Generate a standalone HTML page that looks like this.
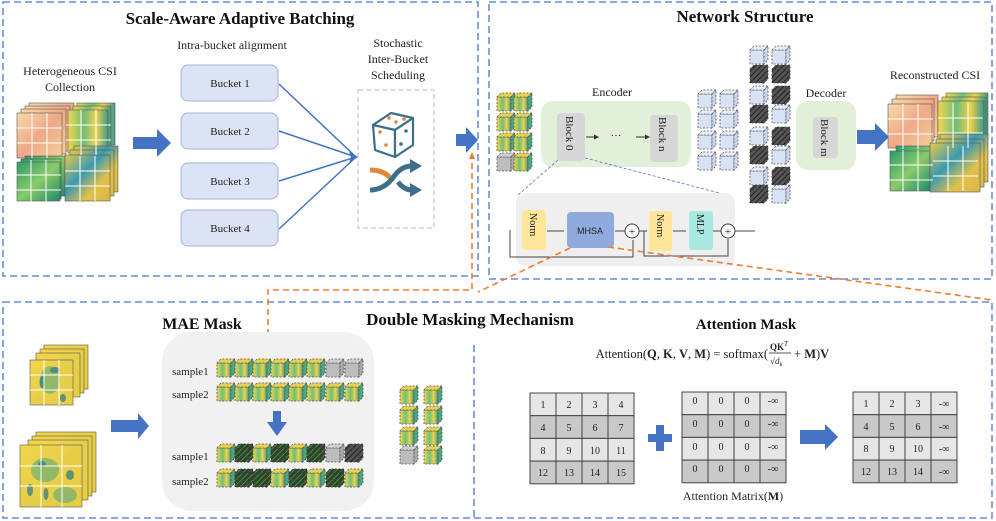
<!DOCTYPE html>
<html><head><meta charset="utf-8"><style>
html,body{margin:0;padding:0;background:#fff}
svg{display:block}
text{font-family:"Liberation Serif",serif;fill:#222}
.t{font-weight:bold;font-size:17px;fill:#111}
.s{font-size:12px}
.b{font-size:11px}
</style></head><body>
<svg width="996" height="521" viewBox="0 0 996 521" xmlns="http://www.w3.org/2000/svg">
<defs>
<linearGradient id="gO" x1="0" y1="0" x2="1" y2="1"><stop offset="0" stop-color="#f8d9a8"/><stop offset=".5" stop-color="#f0a888"/><stop offset="1" stop-color="#f6cf9a"/></linearGradient>
<linearGradient id="gY" x1="0" y1="0" x2="1" y2="0"><stop offset="0" stop-color="#f2d64a"/><stop offset=".4" stop-color="#6fbf7a"/><stop offset=".7" stop-color="#f0d24a"/><stop offset="1" stop-color="#3a9a8a"/></linearGradient>
<linearGradient id="gG" x1="0" y1="0" x2="1" y2="1"><stop offset="0" stop-color="#2e9a6a"/><stop offset=".5" stop-color="#8acb6a"/><stop offset="1" stop-color="#1f8a6a"/></linearGradient>
<linearGradient id="gB" x1="0" y1="0" x2="1" y2="1"><stop offset="0" stop-color="#e8c94a"/><stop offset=".4" stop-color="#3a9ab0"/><stop offset=".7" stop-color="#e2c04a"/><stop offset="1" stop-color="#d8b84a"/></linearGradient>
<linearGradient id="gYY" x1="0" y1="0" x2="1" y2="1"><stop offset="0" stop-color="#f4d54a"/><stop offset=".5" stop-color="#e6cf48"/><stop offset="1" stop-color="#e8cc44"/></linearGradient>
<pattern id="hatch" width="4" height="4" patternUnits="userSpaceOnUse" patternTransform="rotate(45)"><rect width="4" height="4" fill="#555"/><line x1="0" y1="0" x2="0" y2="4" stroke="#222" stroke-width="2"/></pattern>
<pattern id="hatchY" width="4" height="4" patternUnits="userSpaceOnUse" patternTransform="rotate(45)"><rect width="4" height="4" fill="#2a4a30"/><line x1="0" y1="0" x2="0" y2="4" stroke="#8aa840" stroke-width="1"/></pattern>
<g id="cL" stroke="#555" stroke-width=".8" stroke-dasharray="2 1.5"><rect x="0" y="4" width="14" height="14" fill="#d9e2f5"/><polygon points="0,4 4,0 18,0 14,4" fill="#e6ecf8"/><polygon points="14,4 18,0 18,14 14,18" fill="#c8d4ee"/></g>
<g id="cD" stroke="#444" stroke-width=".8" stroke-dasharray="2 1.5"><rect x="0" y="4" width="14" height="14" fill="url(#hatch)"/><polygon points="0,4 4,0 18,0 14,4" fill="url(#hatch)"/><polygon points="14,4 18,0 18,14 14,18" fill="url(#hatch)"/></g>
<g id="cG" stroke="#555" stroke-width=".8" stroke-dasharray="2 1.5"><rect x="0" y="4" width="14" height="14" fill="#bdbdbd"/><polygon points="0,4 4,0 18,0 14,4" fill="#d0d0d0"/><polygon points="14,4 18,0 18,14 14,18" fill="#a8a8a8"/></g>
<g id="cY" stroke="#555" stroke-width=".8" stroke-dasharray="2 1.5"><rect x="0" y="4" width="14" height="14" fill="url(#gY)"/><polygon points="0,4 4,0 18,0 14,4" fill="#e8d050"/><polygon points="14,4 18,0 18,14 14,18" fill="#4aa880"/></g>
<g id="cH" stroke="#333" stroke-width=".8" stroke-dasharray="2 1.5"><rect x="0" y="4" width="14" height="14" fill="url(#hatchY)"/><polygon points="0,4 4,0 18,0 14,4" fill="url(#hatchY)"/><polygon points="14,4 18,0 18,14 14,18" fill="url(#hatchY)"/></g>
<g id="hm"><path d="M0 15H45M0 30H45M15 0V45M30 0V45" stroke="#fff" stroke-width="1"/></g>
</defs>

<g fill="none" stroke="#4a74d0" stroke-width="1.3" stroke-dasharray="7 4">
<rect x="3" y="2" width="475" height="274"/>
<rect x="489" y="2" width="503" height="277"/>
<rect x="3" y="302" width="989" height="216"/>
<line x1="474" y1="345" x2="474" y2="518"/>
</g>
<text class="t" x="240" y="24" text-anchor="middle">Scale-Aware Adaptive Batching</text>
<text class="t" x="745" y="22" text-anchor="middle">Network Structure</text>
<text class="t" x="470" y="325" text-anchor="middle">Double Masking Mechanism</text>
<text class="t" x="202" y="329" text-anchor="middle" style="font-size:16px">MAE Mask</text>
<text class="t" x="746" y="329" text-anchor="middle" style="font-size:15px">Attention Mask</text>

<text class="s" x="70" y="75" text-anchor="middle">Heterogeneous CSI</text>
<text class="s" x="70" y="91" text-anchor="middle">Collection</text>
<g stroke="#555" stroke-width=".6">
<rect x="29" y="103" width="45" height="45" fill="url(#gO)"/><rect x="25" y="106" width="45" height="45" fill="url(#gO)"/><rect x="21" y="109" width="45" height="45" fill="url(#gO)"/><rect x="17" y="113" width="45" height="45" fill="url(#gO)"/>
<rect x="77" y="103" width="38" height="42" fill="url(#gY)"/><rect x="73" y="106" width="38" height="42" fill="url(#gY)"/><rect x="68" y="110" width="40" height="43" fill="url(#gY)"/>
<rect x="25" y="156" width="40" height="40" fill="url(#gG)"/><rect x="21" y="159" width="40" height="40" fill="url(#gG)"/><rect x="17" y="162" width="43" height="39" fill="url(#gG)"/>
<rect x="74" y="146" width="44" height="46" fill="url(#gB)"/><rect x="70" y="150" width="44" height="46" fill="url(#gB)"/><rect x="65" y="155" width="45" height="46" fill="url(#gB)"/>
</g>
<use href="#hm" x="17" y="113"/><use href="#hm" x="66" y="110"/><use href="#hm" x="16" y="160"/><use href="#hm" x="65" y="156"/>
<polygon points="133,137 157,137 157,129 171,143 157,157 157,149 133,149" fill="#4472c4"/>
<text class="s" x="232" y="49" text-anchor="middle">Intra-bucket alignment</text>
<g fill="#dbe3f5" stroke="#9fb2de" stroke-width="1">
<rect x="181" y="65" width="97" height="36" rx="7"/><rect x="181" y="113" width="97" height="36" rx="7"/><rect x="181" y="163" width="97" height="36" rx="7"/><rect x="181" y="210" width="97" height="36" rx="7"/>
</g>
<text class="b" x="230" y="87" text-anchor="middle">Bucket 1</text><text class="b" x="230" y="135" text-anchor="middle">Bucket 2</text><text class="b" x="230" y="185" text-anchor="middle">Bucket 3</text><text class="b" x="230" y="232" text-anchor="middle">Bucket 4</text>
<g stroke="#4472c4" stroke-width="1.5" fill="none">
<line x1="279" y1="84" x2="356" y2="157"/><line x1="279" y1="131" x2="356" y2="157"/><line x1="279" y1="181" x2="356" y2="157"/><line x1="279" y1="229" x2="356" y2="157"/>
</g>
<polygon points="358,157 349,151 351,158 349,163" fill="#4472c4"/>
<text class="s" x="398" y="47" text-anchor="middle">Stochastic</text>
<text class="s" x="398" y="63" text-anchor="middle">Inter-Bucket</text>
<text class="s" x="398" y="79" text-anchor="middle">Scheduling</text>
<rect x="358" y="90" width="76" height="138" fill="#fff" stroke="#bbb" stroke-dasharray="5 3"/>
<g stroke="#3d7088" stroke-width="2.2" fill="#fff" stroke-linejoin="round">
<polygon points="373,125 391,113 413,118 395,130"/><polygon points="373,125 395,130 395,157 375,150"/><polygon points="395,130 413,118 413,145 395,157"/>
</g>
<g fill="#e0883a"><circle cx="389" cy="118" r="1.8"/><circle cx="396" cy="122" r="1.8"/><circle cx="404" cy="119" r="1.8"/><circle cx="380" cy="132" r="1.8"/><circle cx="386" cy="145" r="1.8"/></g>
<g fill="#3d7088"><circle cx="406" cy="131" r="1.8"/><circle cx="401" cy="144" r="1.8"/></g>
<path d="M370 170 Q385 170 392 180" stroke="#e0883a" stroke-width="5" fill="none"/>
<path d="M370 190 Q385 190 395 175 Q402 166 412 166" stroke="#3d7088" stroke-width="5" fill="none"/>
<path d="M398 182 Q404 190 412 190" stroke="#3d7088" stroke-width="5" fill="none"/>
<polygon points="410,159 422,166 410,173" fill="#3d7088"/><polygon points="410,183 422,190 410,197" fill="#3d7088"/>
<polygon points="456,134 466,134 466,127 478,140 466,153 466,146 456,146" fill="#4472c4"/>

<use href="#cY" x="497" y="93"/><use href="#cY" x="514" y="93"/><use href="#cY" x="497" y="113"/><use href="#cY" x="514" y="113"/><use href="#cY" x="497" y="133"/><use href="#cY" x="514" y="133"/><use href="#cG" x="497" y="153"/><use href="#cY" x="514" y="153"/>
<text class="s" x="612" y="96" text-anchor="middle">Encoder</text>
<rect x="541" y="101" width="150" height="66" rx="12" fill="#e2f0d9"/>
<rect x="557" y="113" width="28" height="48" rx="4" fill="#d6d6d6"/>
<rect x="650" y="115" width="28" height="47" rx="4" fill="#d6d6d6"/>
<text class="b" transform="translate(566,116) rotate(90)">Block 0</text>
<text class="b" transform="translate(659,117) rotate(90)">Block n</text>
<g stroke="#333" stroke-width="1"><line x1="586" y1="137" x2="597" y2="137"/><line x1="636" y1="137" x2="648" y2="137"/></g>
<polygon points="599,137 594,134.5 594,139.5" fill="#333"/><polygon points="650,137 645,134.5 645,139.5" fill="#333"/>
<text class="b" x="616" y="139" text-anchor="middle">···</text>
<use href="#cL" x="698" y="90"/><use href="#cL" x="720" y="90"/><use href="#cL" x="698" y="110"/><use href="#cL" x="720" y="110"/><use href="#cL" x="698" y="131"/><use href="#cL" x="720" y="131"/><use href="#cL" x="698" y="152"/><use href="#cL" x="720" y="152"/>
<use href="#cL" x="750" y="46"/><use href="#cL" x="772" y="46"/>
<use href="#cD" x="750" y="65"/><use href="#cD" x="772" y="65"/>
<use href="#cL" x="750" y="86"/><use href="#cD" x="772" y="86"/>
<use href="#cD" x="750" y="105"/><use href="#cL" x="772" y="105"/>
<use href="#cL" x="750" y="127"/><use href="#cD" x="772" y="127"/>
<use href="#cD" x="750" y="146"/><use href="#cL" x="772" y="146"/>
<use href="#cL" x="750" y="167"/><use href="#cD" x="772" y="167"/>
<use href="#cD" x="750" y="185"/><use href="#cL" x="772" y="185"/>
<text class="s" x="826" y="97" text-anchor="middle">Decoder</text>
<rect x="796" y="101" width="60" height="69" rx="12" fill="#e2f0d9"/>
<rect x="813" y="117" width="25" height="41" rx="4" fill="#d6d6d6"/>
<text class="b" transform="translate(821,119) rotate(90)">Block m</text>
<polygon points="857,130 875,130 875,123 889,137 875,151 875,144 857,144" fill="#4472c4"/>
<text class="s" x="935" y="79" text-anchor="middle">Reconstructed CSI</text>
<g stroke="#555" stroke-width=".6">
<rect x="896" y="95" width="42" height="42" fill="url(#gO)"/><rect x="892" y="99" width="42" height="42" fill="url(#gO)"/><rect x="888" y="104" width="44" height="44" fill="url(#gO)"/>
<rect x="946" y="93" width="42" height="46" fill="url(#gY)"/><rect x="942" y="97" width="44" height="48" fill="url(#gY)"/><rect x="938" y="101" width="46" height="48" fill="url(#gY)"/>
<rect x="896" y="146" width="40" height="40" fill="url(#gG)"/><rect x="890" y="151" width="40" height="40" fill="url(#gG)"/>
<rect x="940" y="134" width="48" height="48" fill="url(#gB)"/><rect x="936" y="139" width="48" height="48" fill="url(#gB)"/><rect x="930" y="143" width="50" height="49" fill="url(#gB)"/>
</g>
<use href="#hm" x="888" y="104"/><use href="#hm" x="938" y="103"/><use href="#hm" x="888" y="150"/><use href="#hm" x="933" y="146"/>
<g stroke="#4a74d0" stroke-width=".8" stroke-dasharray="3 2"><line x1="558" y1="160" x2="518" y2="195"/><line x1="585" y1="158" x2="727" y2="195"/></g>
<rect x="516" y="193" width="219" height="73" rx="10" fill="#efefef"/>
<rect x="522" y="210" width="24" height="40" rx="3" fill="#ffe699"/>
<rect x="567" y="212" width="47" height="36" rx="4" fill="#8faadc"/>
<rect x="649" y="211" width="23" height="40" rx="3" fill="#ffe699"/>
<rect x="689" y="211" width="24" height="39" rx="3" fill="#a8e8e0"/>
<text class="b" style="font-size:10px" transform="translate(530,213) rotate(90)">Norm</text>
<text class="b" style="font-size:10px" transform="translate(657,214) rotate(90)">Norm</text>
<text class="b" style="font-size:10px" transform="translate(697,214) rotate(90)">MLP</text>
<text x="590" y="234" text-anchor="middle" style="font-family:'Liberation Sans',sans-serif;font-size:9px">MHSA</text>
<g stroke="#444" stroke-width="1" fill="none">
<line x1="547" y1="231" x2="564" y2="231"/><line x1="615" y1="231" x2="625" y2="231"/><line x1="639" y1="231" x2="647" y2="231"/><line x1="673" y1="231" x2="686" y2="231"/><line x1="713" y1="231" x2="721" y2="231"/><line x1="735" y1="231" x2="755" y2="231"/>
<polyline points="510,230 510,257 633,257 633,240"/><polyline points="644,231 644,256 728,256 728,239"/>
<circle cx="632" cy="231" r="7" fill="#fff"/><circle cx="728" cy="231" r="7" fill="#fff"/>
</g>
<text x="632" y="235" text-anchor="middle" style="font-size:11px">+</text><text x="728" y="235" text-anchor="middle" style="font-size:11px">+</text>

<g stroke="#ed7d31" stroke-width="1.6" stroke-dasharray="6 4" fill="none">
<line x1="570" y1="248" x2="478" y2="292"/>
<line x1="608" y1="247" x2="992" y2="300"/>
<polyline points="268,335 268,290 472,290 472,156"/>
</g>
<polygon points="472,152 469,159 475,159" fill="#ed7d31"/>

<g stroke="#555" stroke-width=".6">
<rect x="44" y="345" width="44" height="44" fill="url(#gYY)"/><rect x="40" y="349" width="44" height="44" fill="url(#gYY)"/><rect x="36" y="353" width="44" height="44" fill="url(#gYY)"/><rect x="30" y="360" width="43" height="45" fill="url(#gYY)"/>
<rect x="36" y="432" width="60" height="60" fill="url(#gYY)"/><rect x="32" y="436" width="60" height="60" fill="url(#gYY)"/><rect x="28" y="440" width="60" height="60" fill="url(#gYY)"/><rect x="20" y="445" width="62" height="62" fill="url(#gYY)"/>
</g>
<g fill="#5aaa80" opacity=".6"><ellipse cx="50" cy="380" rx="10" ry="14"/><ellipse cx="45" cy="470" rx="14" ry="12"/><ellipse cx="65" cy="495" rx="12" ry="8"/></g>
<g fill="#2a7a8a" opacity=".7"><ellipse cx="42" cy="382" rx="2.5" ry="6"/><ellipse cx="55" cy="370" rx="5" ry="3"/><ellipse cx="63" cy="398" rx="3" ry="4"/><ellipse cx="42" cy="464" rx="4" ry="3"/><ellipse cx="30" cy="490" rx="3" ry="6"/><ellipse cx="46" cy="494" rx="2.5" ry="6"/><ellipse cx="70" cy="475" rx="4" ry="5"/></g>
<g stroke="#fff"><path d="M30 375H73M30 390H73M44 360V405M59 360V405M20 466H82M20 486H82M41 445V507M62 445V507"/></g>
<polygon points="111,420 138,420 138,413 149,426 138,439 138,432 111,432" fill="#4472c4"/>
<rect x="162" y="332" width="212" height="179" rx="30" fill="#f1f1f1"/>
<text class="b" x="172" y="375">sample1</text><text class="b" x="172" y="398">sample2</text>
<text class="b" x="172" y="460">sample1</text><text class="b" x="172" y="485">sample2</text>
<use href="#cY" x="217" y="359"/><use href="#cY" x="235" y="359"/><use href="#cY" x="253" y="359"/><use href="#cY" x="271" y="359"/><use href="#cY" x="289" y="359"/><use href="#cY" x="307" y="359"/><use href="#cG" x="326" y="359"/><use href="#cG" x="345" y="359"/>
<use href="#cY" x="217" y="383"/><use href="#cY" x="235" y="383"/><use href="#cY" x="253" y="383"/><use href="#cY" x="271" y="383"/><use href="#cY" x="289" y="383"/><use href="#cY" x="307" y="383"/><use href="#cY" x="326" y="383"/><use href="#cY" x="345" y="383"/>
<polygon points="273,411 281,411 281,422 287,422 277,436 267,422 273,422" fill="#4472c4"/>
<use href="#cY" x="217" y="444"/><use href="#cH" x="235" y="444"/><use href="#cY" x="253" y="444"/><use href="#cH" x="271" y="444"/><use href="#cY" x="289" y="444"/><use href="#cH" x="307" y="444"/><use href="#cG" x="326" y="444"/><use href="#cD" x="345" y="444"/>
<use href="#cY" x="217" y="469"/><use href="#cH" x="235" y="469"/><use href="#cH" x="253" y="469"/><use href="#cY" x="271" y="469"/><use href="#cH" x="289" y="469"/><use href="#cY" x="307" y="469"/><use href="#cH" x="326" y="469"/><use href="#cY" x="345" y="469"/>
<use href="#cY" x="400" y="386"/><use href="#cY" x="424" y="386"/><use href="#cY" x="400" y="406"/><use href="#cY" x="424" y="406"/><use href="#cY" x="400" y="427"/><use href="#cY" x="424" y="427"/><use href="#cG" x="400" y="446"/><use href="#cY" x="424" y="446"/>

<text x="768" y="358" text-anchor="end" style="font-size:12.5px">Attention(<tspan font-weight="bold">Q</tspan>, <tspan font-weight="bold">K</tspan>, <tspan font-weight="bold">V</tspan>, <tspan font-weight="bold">M</tspan>) = softmax(</text>
<text x="770" y="350" style="font-size:9px;font-weight:bold">QK<tspan font-style="italic" font-weight="normal" dy="-4" font-size="7">T</tspan></text>
<line x1="769" y1="353" x2="791" y2="353" stroke="#222" stroke-width=".7"/>
<text x="770" y="364" style="font-size:9px">√<tspan font-style="italic">d</tspan><tspan font-size="6" dy="2">k</tspan></text>
<text x="794" y="358" style="font-size:12.5px">+ <tspan font-weight="bold">M</tspan>)<tspan font-weight="bold">V</tspan></text>

<g font-size="10" stroke="#444" stroke-width="1">
<g id="m1">
<rect x="530" y="393" width="104" height="22.7" fill="#e6e6e6"/><rect x="530" y="415.7" width="104" height="22.7" fill="#c9c9c9"/><rect x="530" y="438.4" width="104" height="22.7" fill="#e6e6e6"/><rect x="530" y="461.1" width="104" height="22.7" fill="#c9c9c9"/>
<path d="M556 393V483.8M582 393V483.8M608 393V483.8" fill="none"/>
</g>
<use href="#m1" x="152" y="-1"/>
<use href="#m1" x="323" y="-1"/>
</g>
<g font-size="10" text-anchor="middle" style="font-family:'Liberation Sans',sans-serif">
<text x="543" y="408">1</text><text x="569" y="408">2</text><text x="595" y="408">3</text><text x="621" y="408">4</text>
<text x="543" y="431">4</text><text x="569" y="431">5</text><text x="595" y="431">6</text><text x="621" y="431">7</text>
<text x="543" y="454">8</text><text x="569" y="454">9</text><text x="595" y="454">10</text><text x="621" y="454">11</text>
<text x="543" y="476">12</text><text x="569" y="476">13</text><text x="595" y="476">14</text><text x="621" y="476">15</text>
<text x="695" y="404">0</text><text x="721" y="404">0</text><text x="747" y="404">0</text><text x="773" y="404">-∞</text>
<text x="695" y="427">0</text><text x="721" y="427">0</text><text x="747" y="427">0</text><text x="773" y="427">-∞</text>
<text x="695" y="450">0</text><text x="721" y="450">0</text><text x="747" y="450">0</text><text x="773" y="450">-∞</text>
<text x="695" y="472">0</text><text x="721" y="472">0</text><text x="747" y="472">0</text><text x="773" y="472">-∞</text>
<text x="866" y="407">1</text><text x="892" y="407">2</text><text x="918" y="407">3</text><text x="944" y="407">-∞</text>
<text x="866" y="430">4</text><text x="892" y="430">5</text><text x="918" y="430">6</text><text x="944" y="430">-∞</text>
<text x="866" y="452">8</text><text x="892" y="452">9</text><text x="918" y="452">10</text><text x="944" y="452">-∞</text>
<text x="866" y="475">12</text><text x="892" y="475">13</text><text x="918" y="475">14</text><text x="944" y="475">-∞</text>
</g>
<polygon points="656,425 664,425 664,434 672,434 672,442 664,442 664,451 656,451 656,442 648,442 648,434 656,434" fill="#4472c4"/>
<polygon points="800,430 825,430 825,424 838,437 825,450 825,444 800,444" fill="#4472c4"/>
<text class="s" x="733" y="500" text-anchor="middle">Attention Matrix(<tspan font-weight="bold">M</tspan>)</text>
</svg>
</body></html>
